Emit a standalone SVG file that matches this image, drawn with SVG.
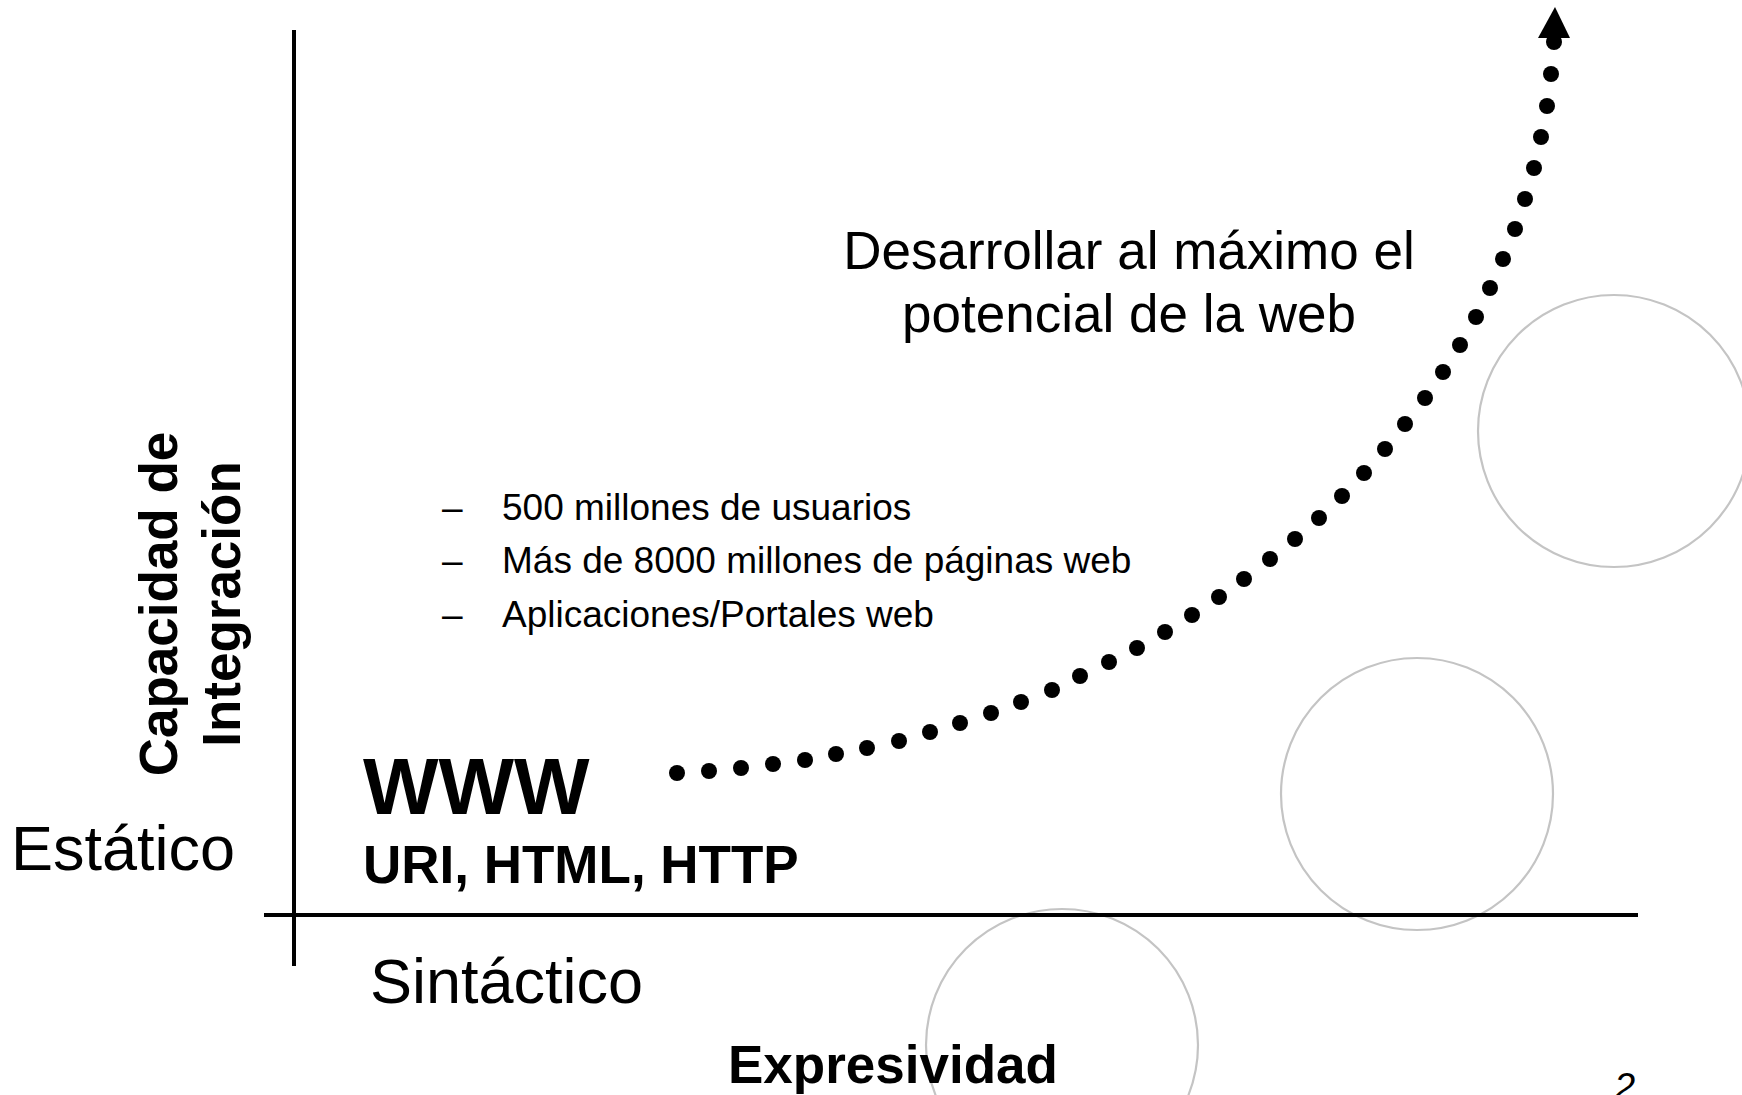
<svg xmlns="http://www.w3.org/2000/svg" width="1742" height="1095" viewBox="0 0 1742 1095">
<style>
.t{font-family:"Liberation Sans",Arial,sans-serif;fill:#000}
.b{font-weight:bold}
.ring{fill:none;stroke:#c4c4c4;stroke-width:2.2}
.axis{stroke:#000;stroke-width:4;fill:none}
.dot{fill:#000}
</style>
<rect width="1742" height="1095" fill="#fff"/>
<g id="circle-bottom"><circle class="ring" cx="1062" cy="1045" r="136"/></g>
<g id="circle-middle"><circle class="ring" cx="1417" cy="794" r="136"/></g>
<g id="circle-top"><circle class="ring" cx="1614" cy="431" r="136"/></g>
<g id="axes">
<line class="axis" x1="294" y1="30" x2="294" y2="966"/>
<line class="axis" x1="264" y1="915" x2="1638" y2="915"/>
</g>
<g id="goal-label">
<text class="t" x="1129" y="269" font-size="53" text-anchor="middle">Desarrollar al máximo el</text>
<text class="t" x="1129" y="332" font-size="53" text-anchor="middle">potencial de la web</text>
</g>
<g id="bullets" class="t" font-size="37">
<text x="442" y="520">–</text><text x="502" y="520">500 millones de usuarios</text>
<text x="442" y="573">–</text><text x="502" y="573">Más de 8000 millones de páginas web</text>
<text x="442" y="627">–</text><text x="502" y="627">Aplicaciones/Portales web</text>
</g>
<g id="www">
<text class="t b" x="363" y="814" font-size="80">WWW</text>
<text class="t b" x="363" y="883" font-size="53">URI, HTML, HTTP</text>
</g>
<g id="y-axis-label">
<text class="t b" font-size="53" text-anchor="middle" transform="translate(177,604) rotate(-90)">Capacidad de</text>
<text class="t b" font-size="53" text-anchor="middle" transform="translate(240,604) rotate(-90)">Integración</text>
</g>
<g id="estatico"><text class="t" x="11" y="870" font-size="63">Estático</text></g>
<g id="sintactico"><text class="t" x="370" y="1003" font-size="63">Sintáctico</text></g>
<g id="x-axis-label"><text class="t b" x="728" y="1083" font-size="53">Expresividad</text></g>
<g id="page-number"><text class="t" x="1614" y="1100" font-size="38" font-style="italic">2</text></g>
<g id="connectors">
<g class="dot">
<circle cx="677" cy="773" r="8"/><circle cx="709" cy="771" r="8"/><circle cx="741" cy="768" r="8"/><circle cx="773" cy="764" r="8"/>
<circle cx="805" cy="760" r="8"/><circle cx="836" cy="754" r="8"/><circle cx="867" cy="748" r="8"/><circle cx="899" cy="741" r="8"/>
<circle cx="930" cy="732" r="8"/><circle cx="960" cy="723" r="8"/><circle cx="991" cy="713" r="8"/><circle cx="1021" cy="702" r="8"/>
<circle cx="1052" cy="690" r="8"/><circle cx="1080" cy="676" r="8"/><circle cx="1109" cy="662" r="8"/><circle cx="1137" cy="648" r="8"/>
<circle cx="1165" cy="632" r="8"/><circle cx="1192" cy="615" r="8"/><circle cx="1219" cy="597" r="8"/><circle cx="1244" cy="579" r="8"/>
<circle cx="1270" cy="559" r="8"/><circle cx="1295" cy="539" r="8"/><circle cx="1319" cy="518" r="8"/><circle cx="1342" cy="496" r="8"/>
<circle cx="1364" cy="473" r="8"/><circle cx="1385" cy="449" r="8"/><circle cx="1405" cy="424" r="8"/><circle cx="1425" cy="398" r="8"/>
<circle cx="1443" cy="372" r="8"/><circle cx="1460" cy="345" r="8"/><circle cx="1476" cy="317" r="8"/><circle cx="1490" cy="288" r="8"/>
<circle cx="1503" cy="259" r="8"/><circle cx="1515" cy="229" r="8"/><circle cx="1525" cy="199" r="8"/><circle cx="1534" cy="168" r="8"/>
<circle cx="1541" cy="137" r="8"/><circle cx="1547" cy="106" r="8"/><circle cx="1551" cy="74" r="8"/><circle cx="1554" cy="42" r="8"/>
</g>
<polygon points="1555,7 1538,38 1570,38" fill="#000"/>
</g>
</svg>
